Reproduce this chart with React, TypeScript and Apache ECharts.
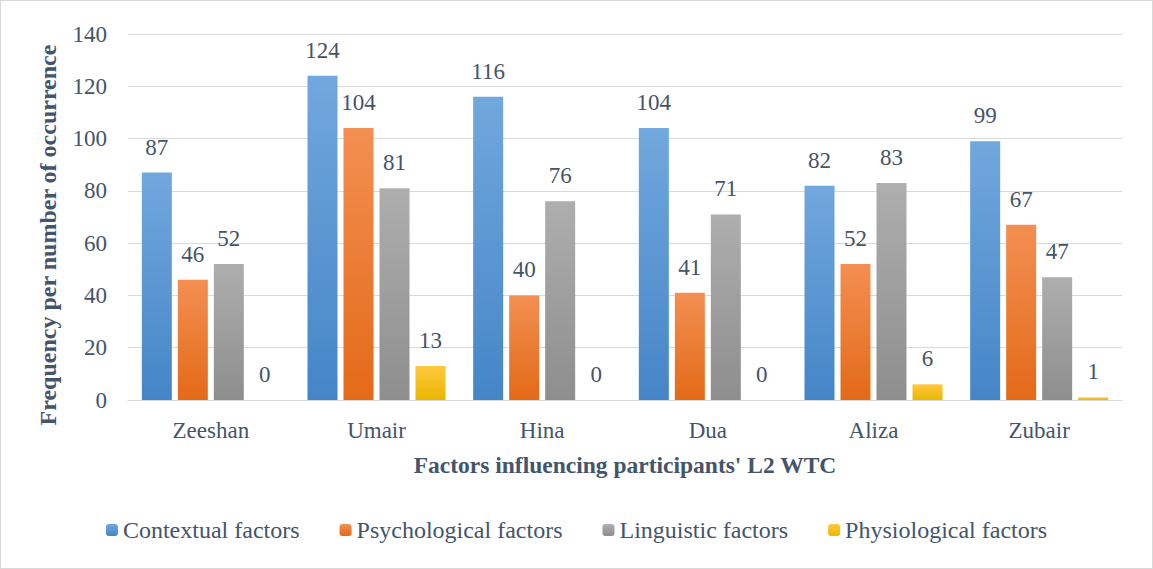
import React, { useEffect, useRef } from "react";
import * as echarts from "echarts";

const categories = ["Zeeshan", "Umair", "Hina", "Dua", "Aliza", "Zubair"];
const contextual = [87, 124, 116, 104, 82, 99];
const psychological = [46, 104, 40, 41, 52, 67];
const linguistic = [52, 81, 76, 71, 83, 47];
const physiological = [0, 13, 0, 0, 6, 1];
const seriesNames = ["Contextual factors", "Psychological factors", "Linguistic factors", "Physiological factors"];

const FONT = "Liberation Serif";
const TEXT = "#44546A";

function grad(top: string, bottom: string) {
  return new echarts.graphic.LinearGradient(0, 0, 0, 1, [
    { offset: 0, color: top },
    { offset: 1, color: bottom },
  ]);
}

export default function App() {
  const ref = useRef<HTMLDivElement>(null);
  useEffect(() => {
    if (!ref.current) return;
    const chart = echarts.init(ref.current, undefined, { renderer: "svg" });
    const colors = [
      grad("#71A8DD", "#4585C7"),
      grad("#F38F52", "#E36A18"),
      grad("#AEAEAE", "#8E8E8E"),
      grad("#FFC83F", "#EBB700"),
    ];
    const data = [contextual, psychological, linguistic, physiological];
    chart.setOption({
      animation: false,
      backgroundColor: "#FFFFFF",
      textStyle: { fontFamily: FONT, color: TEXT },
      grid: { left: 127, right: 30, top: 33, bottom: 168, containLabel: false },
      legend: {
        bottom: 21,
        left: "center",
        itemWidth: 12,
        itemHeight: 12,
        itemGap: 40,
        textStyle: { fontFamily: FONT, fontSize: 24, color: TEXT },
        data: seriesNames,
      },
      xAxis: {
        type: "category",
        data: categories,
        axisTick: { show: false },
        axisLine: { lineStyle: { color: "#D9D9D9", width: 1 } },
        axisLabel: { fontFamily: FONT, fontSize: 23, color: TEXT, margin: 19 },
        name: "Factors influencing participants' L2 WTC",
        nameLocation: "middle",
        nameGap: 53,
        nameTextStyle: { fontFamily: FONT, fontSize: 23.5, fontWeight: "bold", color: TEXT },
      },
      yAxis: {
        type: "value",
        min: 0,
        max: 140,
        interval: 20,
        axisLine: { show: false },
        axisTick: { show: false },
        splitLine: { lineStyle: { color: "#D9D9D9", width: 1 } },
        axisLabel: { fontFamily: FONT, fontSize: 23, color: TEXT, margin: 21 },
        name: "Frequency per number of occurrence",
        nameLocation: "middle",
        nameGap: 68,
        nameTextStyle: {
          fontFamily: FONT,
          fontSize: 24,
          fontWeight: "bold",
          color: TEXT,
          padding: [0, 36, 0, 0],
        },
      },
      series: seriesNames.map((name, i) => ({
        name,
        type: "bar",
        data: data[i],
        barWidth: 30,
        barGap: "20%",
        itemStyle: { color: colors[i] },
        label: {
          show: true,
          position: "top",
          distance: 14,
          fontFamily: FONT,
          fontSize: 23,
          color: TEXT,
        },
      })),
    });
    return () => chart.dispose();
  }, []);
  return (
    <div
      style={{
        position: "fixed",
        left: 0,
        top: 0,
        width: 1153,
        height: 569,
        boxSizing: "border-box",
        border: "1px solid #D9D9D9",
        background: "#fff",
      }}
    >
      <div ref={ref} style={{ width: "100%", height: "100%" }} />
    </div>
  );
}
